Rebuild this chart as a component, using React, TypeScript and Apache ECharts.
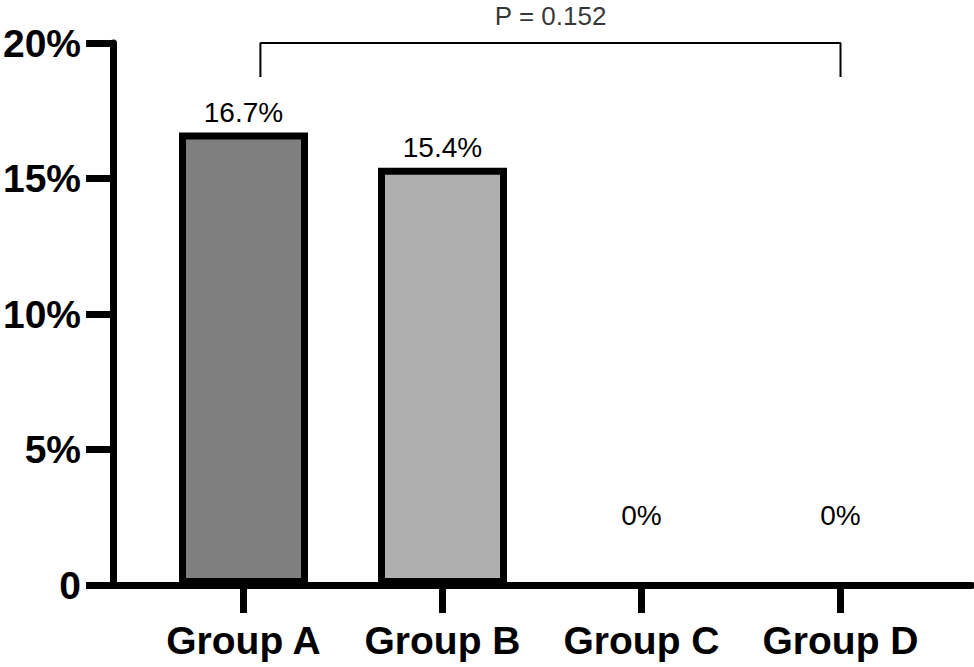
import React, { useEffect, useRef } from "react";
import * as echarts from "echarts";

const categories = ["Group A", "Group B", "Group C", "Group D"];
const values = [16.7, 15.4, 0, 0];
const valueLabels = ["16.7%", "15.4%", "0%", "0%"];
const barColors = ["#7f7f7f", "#afafaf", "#ffffff", "#ffffff"];
const yTicks = [0, 5, 10, 15, 20];
const bracketPoints = [
  [0.075, 18.75],
  [0.075, 20],
  [3, 20],
  [3, 18.75],
];
const pLabel = "P = 0.152";
const pLabelPos = [1.538, 20];

const FONT = "'Liberation Sans', Arial, Helvetica, sans-serif";

export default function App() {
  const ref = useRef<HTMLDivElement>(null);
  useEffect(() => {
    if (!ref.current) return;
    const chart = echarts.init(ref.current, undefined, { renderer: "svg" });
    const gridTop = 43;
    const gridBottom = 82;
    chart.setOption({
      animation: false,
      backgroundColor: "#ffffff",
      grid: [
        { left: 110, right: 2, top: gridTop, bottom: gridBottom },
        { left: 144, width: 796, top: gridTop, bottom: gridBottom },
      ],
      xAxis: [
        {
          type: "value",
          gridIndex: 0,
          min: -0.668,
          max: 3.663,
          axisLine: { show: true, onZero: false, lineStyle: { color: "#000", width: 7 } },
          axisTick: { show: false },
          axisLabel: { show: false },
          splitLine: { show: false },
        },
        {
          type: "category",
          gridIndex: 1,
          data: categories,
          boundaryGap: true,
          axisLine: { show: false },
          axisTick: {
            show: true,
            alignWithLabel: true,
            interval: 0,
            length: 28,
            lineStyle: { color: "#000", width: 7 },
          },
          axisLabel: {
            show: true,
            interval: 0,
            margin: 36,
            color: "#000",
            fontFamily: FONT,
            fontWeight: "bold",
            fontSize: 39,
          },
          splitLine: { show: false },
        },
      ],
      yAxis: [
        {
          type: "value",
          gridIndex: 0,
          min: yTicks[0],
          max: yTicks[yTicks.length - 1],
          interval: 5,
          axisLine: { show: true, onZero: false, lineStyle: { color: "#000", width: 7 } },
          axisTick: { show: true, length: 27, lineStyle: { color: "#000", width: 7 } },
          axisLabel: {
            show: true,
            margin: 32,
            color: "#000",
            fontFamily: FONT,
            fontWeight: "bold",
            fontSize: 39,
            formatter: (v: number) => (v === 0 ? "0" : v + "%"),
          },
          splitLine: { show: false },
        },
        {
          type: "value",
          gridIndex: 1,
          min: yTicks[0],
          max: yTicks[yTicks.length - 1],
          show: false,
        },
      ],
      series: [
        {
          type: "bar",
          xAxisIndex: 1,
          yAxisIndex: 1,
          barWidth: 129,
          data: values.map((v, i) => ({
            value: v,
            itemStyle: {
              color: barColors[i],
              borderColor: v === 0 ? "rgba(0,0,0,0)" : "#000",
              borderWidth: v === 0 ? 0 : 7,
            },
            label: {
              show: true,
              position: "top",
              distance: v === 0 ? 56 : 6,
              formatter: valueLabels[i],
              color: "#000",
              fontFamily: FONT,
              fontSize: 28,
            },
          })),
        },
        {
          type: "line",
          xAxisIndex: 0,
          yAxisIndex: 0,
          data: bracketPoints,
          symbol: "none",
          clip: false,
          lineStyle: { color: "#000", width: 2 },
          z: 5,
        },
        {
          type: "scatter",
          xAxisIndex: 0,
          yAxisIndex: 0,
          data: [pLabelPos],
          symbolSize: 0,
          clip: false,
          label: {
            show: true,
            position: "top",
            distance: 14,
            formatter: pLabel,
            color: "#000",
            fontFamily: FONT,
            fontSize: 26,
          },
        },
      ],
    });
    return () => chart.dispose();
  }, []);
  return <div ref={ref} style={{ width: 974, height: 667, position: "absolute", left: 0, top: 0 }} />;
}
